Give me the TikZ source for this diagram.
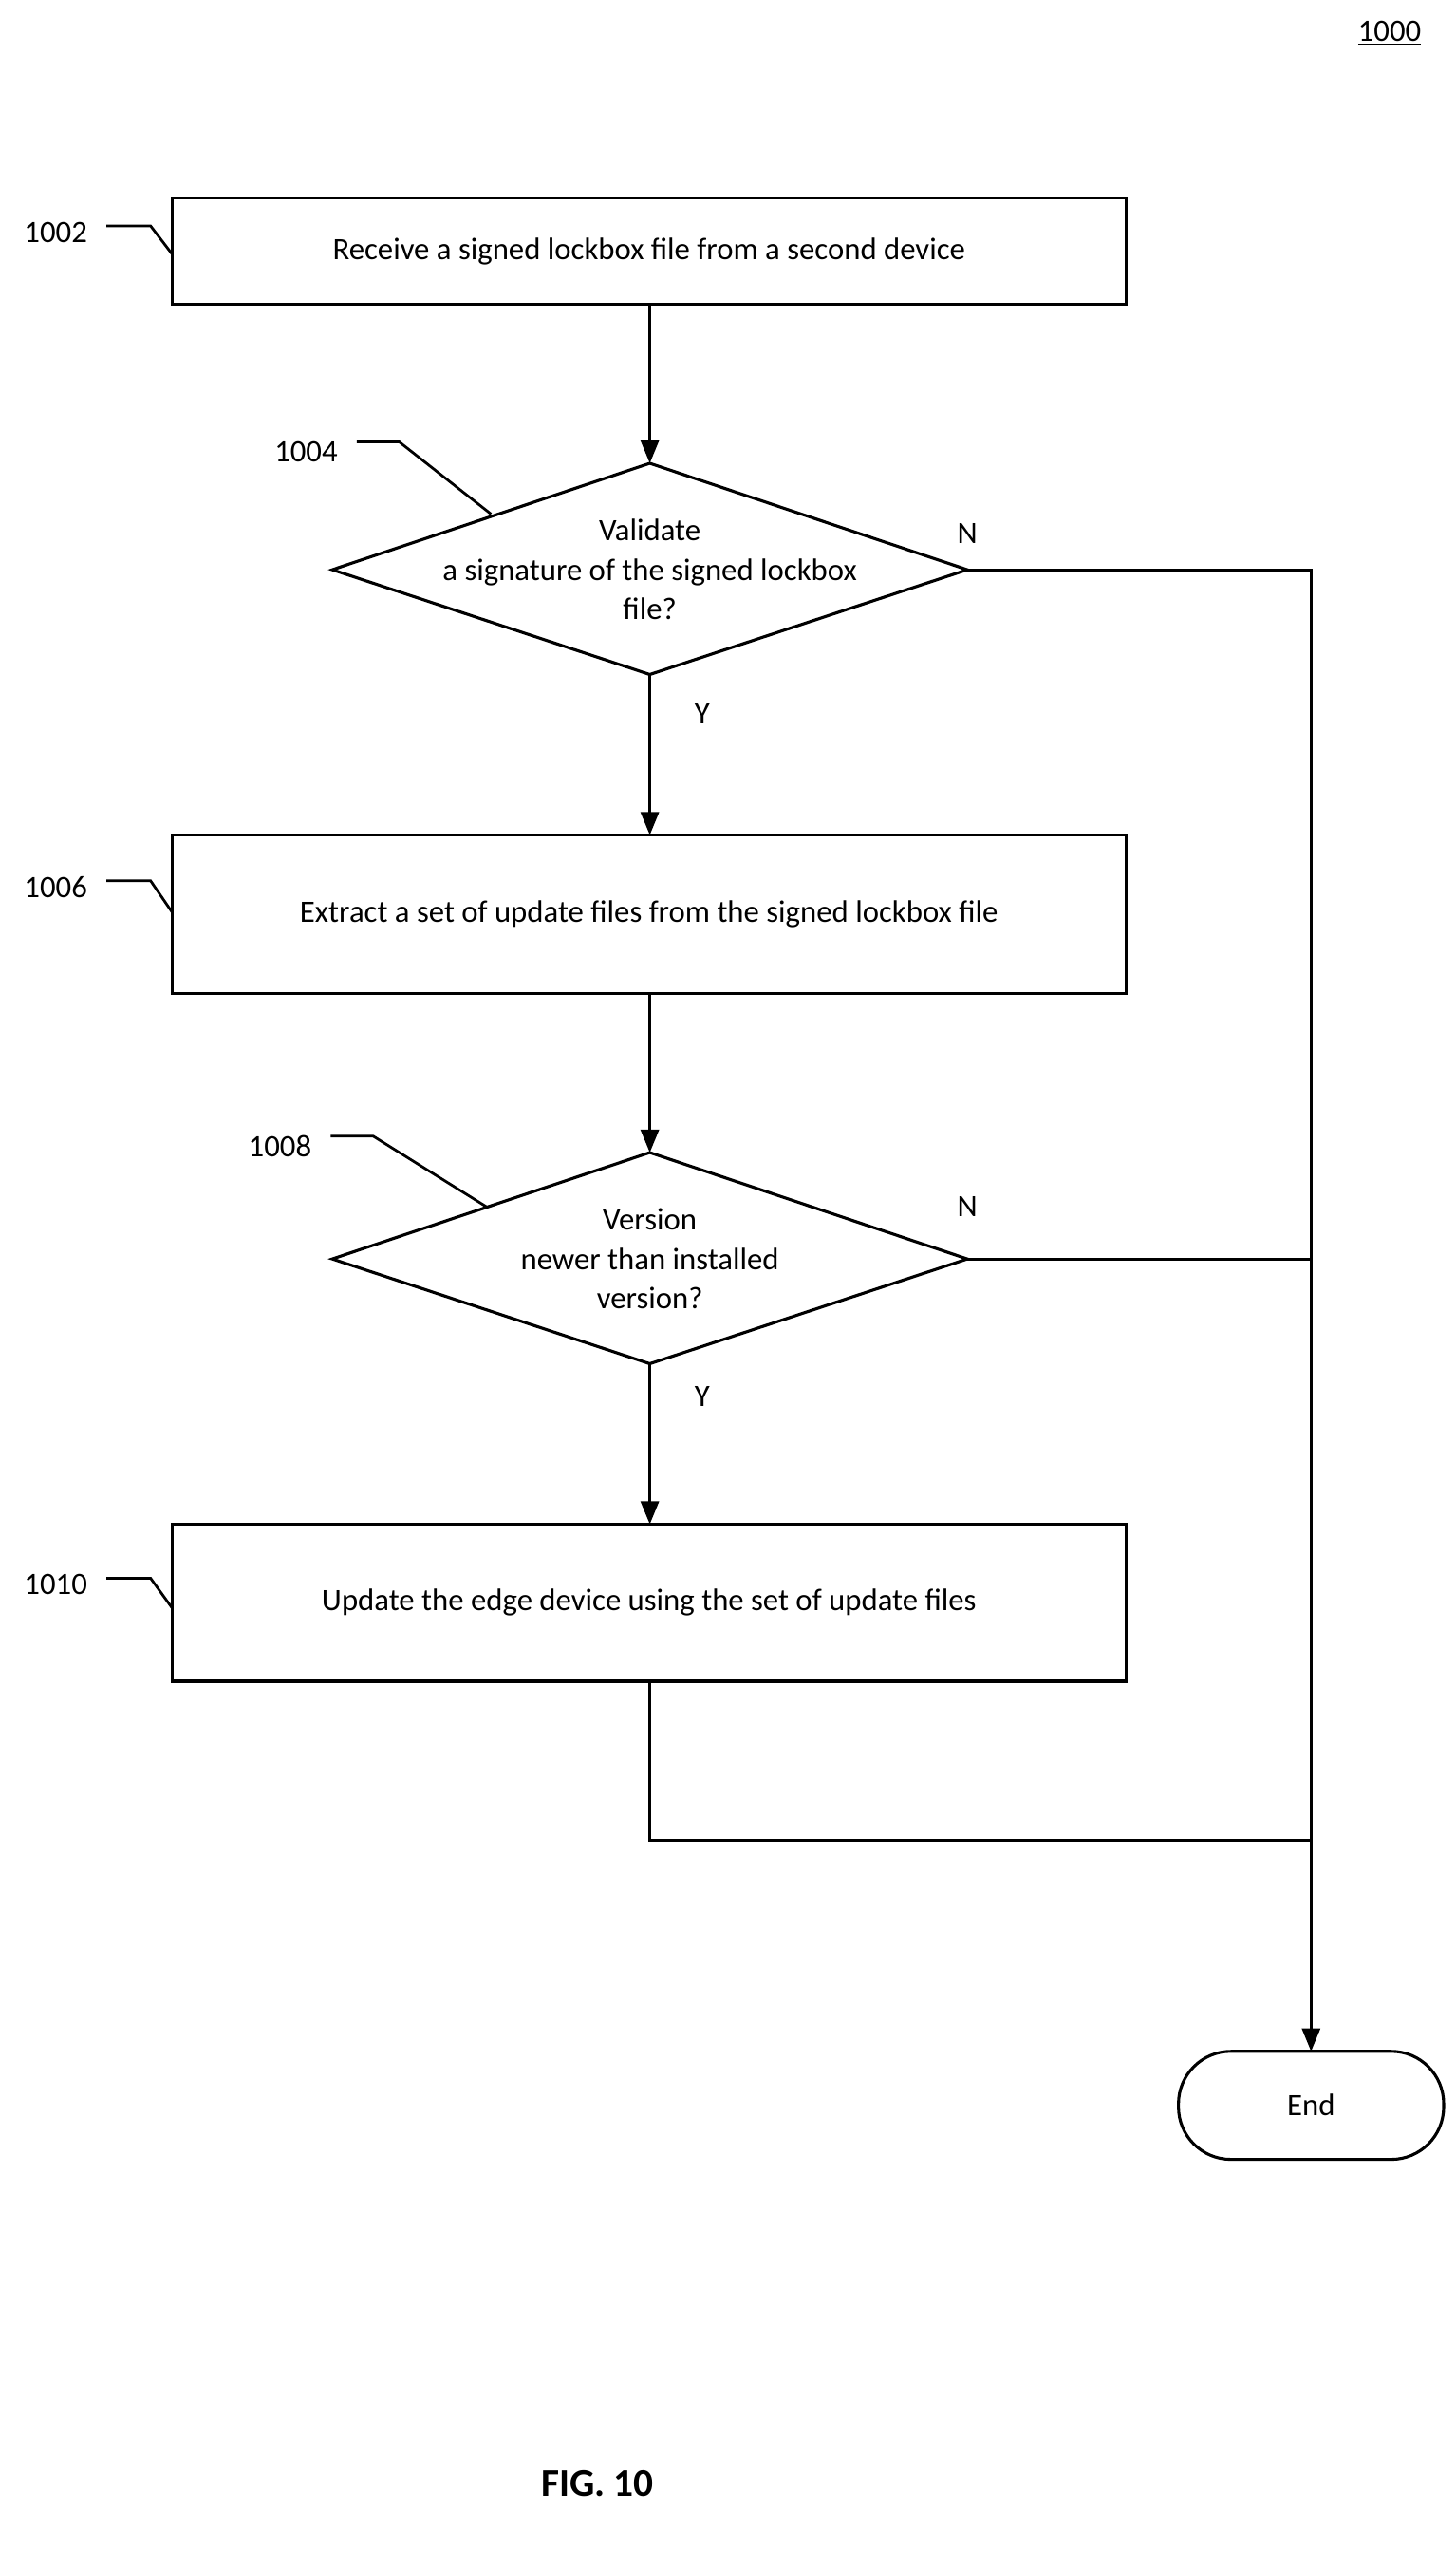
\documentclass[tikz,border=0pt]{standalone}
\usepackage{fontspec}
\setmainfont{Carlito}
\usetikzlibrary{arrows.meta}
\begin{document}
\begin{tikzpicture}[x=1pt,y=-1pt,line width=1.8pt,
  every node/.style={font=\fontsize{19}{24}\selectfont},
  arr/.style={-{Triangle[length=14pt,width=11pt]}},
  lead/.style={line width=1.6pt}]
\useasboundingbox (0,0) rectangle (889,1557);
\node[font=\fontsize{19}{24}\selectfont] (n1000) at (849,20) {\underline{1000}};
% boxes
\draw (105,121) rectangle (688,186);
\node (b1) at (396.5,153.5) {Receive a signed lockbox file from a second device};
\draw (105,510) rectangle (688,607);
\node (b2) at (396.5,558.5) {Extract a set of update files from the signed lockbox file};
\draw (105,931) rectangle (688,1027);
\node (b3) at (396.5,979) {Update the edge device using the set of update files};
% diamonds
\draw (397,283) -- (591,348) -- (397,412) -- (203,348) -- cycle;
\node[align=center] (d1) at (397,348) {Validate\\a signature of the signed lockbox\\file?};
\draw (397,704) -- (591,769) -- (397,833) -- (203,769) -- cycle;
\node[align=center] (d2) at (397,769) {Version\\newer than installed\\version?};
% end
\draw[rounded corners=32pt] (720,1253) rectangle (882,1319);
\node (end) at (801,1286) {End};
% coordinates
\coordinate (b1b) at (397,186); \coordinate (d1t) at (397,283);
\coordinate (d1b) at (397,412); \coordinate (b2t) at (397,510);
\coordinate (b2b) at (397,607); \coordinate (d2t) at (397,704);
\coordinate (d2b) at (397,833); \coordinate (b3t) at (397,931);
\coordinate (b3b) at (397,1027); \coordinate (d1r) at (591,348);
\coordinate (d2r) at (591,769); \coordinate (endt) at (801,1253);
\draw[arr] (b1b) -- (d1t);
\draw[arr] (d1b) -- (b2t);
\draw[arr] (b2b) -- (d2t);
\draw[arr] (d2b) -- (b3t);
\draw[arr] (d1r) -- (801,348) -- (endt);
\draw (d2r) -- (801,769);
\draw (b3b) -- (397,1124) -- (801,1124);
% Y/N
\node (n1) at (591,326) {N};
\node (y1) at (429,436) {Y};
\node (n2) at (591,737) {N};
\node (y2) at (429,853) {Y};
% reference labels
\node (l1002) at (34,142) {1002};
\draw[lead] (65,138) -- (92,138) -- (105,155);
\node (l1004) at (187,276) {1004};
\draw[lead] (218,270) -- (244,270) -- (300,314);
\node (l1006) at (34,542) {1006};
\draw[lead] (65,538) -- (92,538) -- (105,557);
\node (l1008) at (171,700) {1008};
\draw[lead] (202,694) -- (228,694) -- (297,737);
\node (l1010) at (34,968) {1010};
\draw[lead] (65,964) -- (92,964) -- (105,982);
\node[font=\fontsize{24}{28}\selectfont\bfseries] (fig) at (365,1517) {FIG. 10};
\end{tikzpicture}
\end{document}
